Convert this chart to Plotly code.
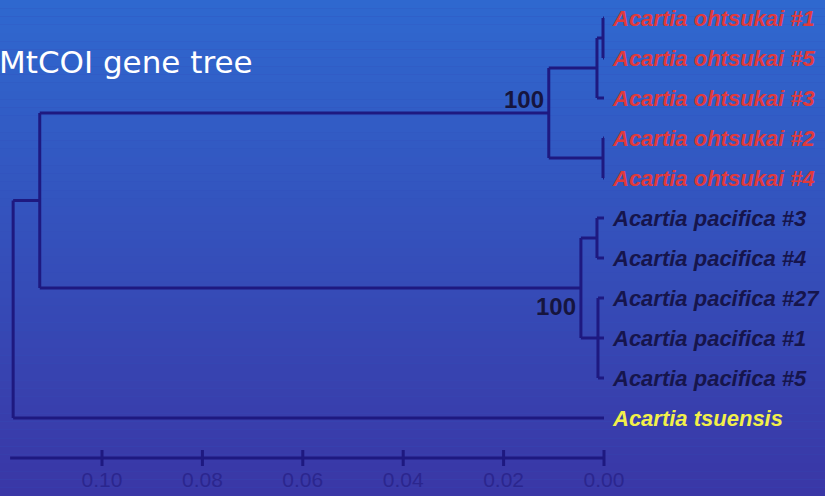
import plotly.graph_objects as go

# ---------------- data ----------------
leaf_names = [
    "Acartia ohtsukai #1", "Acartia ohtsukai #5", "Acartia ohtsukai #3",
    "Acartia ohtsukai #2", "Acartia ohtsukai #4",
    "Acartia pacifica #3", "Acartia pacifica #4", "Acartia pacifica #27",
    "Acartia pacifica #1", "Acartia pacifica #5",
    "Acartia tsuensis",
]
leaf_groups = ["ohtsukai"] * 5 + ["pacifica"] * 5 + ["tsuensis"]

# internal nodes: name -> height (genetic distance), and children
node_heights = {
    "root": 0.1177, "A": 0.1124, "O": 0.0110, "O1": 0.0014, "O11": 0.0002,
    "O2": 0.0002, "P": 0.0046, "P1": 0.0014, "P2": 0.0012,
}
node_children = {
    "root": ["A", "Acartia tsuensis"],
    "A": ["O", "P"],
    "O": ["O1", "O2"],
    "O1": ["O11", "Acartia ohtsukai #3"],
    "O11": ["Acartia ohtsukai #1", "Acartia ohtsukai #5"],
    "O2": ["Acartia ohtsukai #2", "Acartia ohtsukai #4"],
    "P": ["P1", "P2"],
    "P1": ["Acartia pacifica #3", "Acartia pacifica #4"],
    "P2": ["Acartia pacifica #27", "Acartia pacifica #1", "Acartia pacifica #5"],
}
bootstrap_nodes = ["O", "P"]
bootstrap_values = ["100", "100"]

tick_values = [0.10, 0.08, 0.06, 0.04, 0.02, 0.00]
tick_labels = ["0.10", "0.08", "0.06", "0.04", "0.02", "0.00"]
axis_max = 0.1183
title_text = "MtCOI gene tree"

# ---------------- styles ----------------
line_color = "#1e1980"
group_colors = {"ohtsukai": "#e03a3c", "pacifica": "#16154c", "tsuensis": "#f2f04a"}
top_rgb = (0x2f, 0x68, 0xcf)
bot_rgb = (0x3a, 0x37, 0xa6)

# ---------------- layout of tree ----------------
ypos = {name: i for i, name in enumerate(leaf_names)}
xpos = {name: 0.0 for name in leaf_names}


def place(n):
    if n in xpos and n in ypos:
        return ypos[n]
    ys = [place(c) for c in node_children[n]]
    ypos[n] = (min(ys) + max(ys)) / 2
    xpos[n] = node_heights[n]
    return ypos[n]


place("root")

xs, ys = [], []
for n, ch in node_children.items():
    cy = [ypos[c] for c in ch]
    xs += [xpos[n], xpos[n], None]
    ys += [min(cy), max(cy), None]
    for c in ch:
        xs += [xpos[n], xpos[c], None]
        ys += [ypos[c], ypos[c], None]

fig = go.Figure()
fig.add_trace(go.Scatter(x=xs, y=ys, mode="lines",
                         line=dict(color=line_color, width=3), hoverinfo="skip"))

# scale axis
axis_y = len(leaf_names)
ax_x = [axis_max, 0.0, None]
ax_y = [axis_y, axis_y, None]
for t in tick_values:
    ax_x += [t, t, None]
    ax_y += [axis_y - 0.2, axis_y + 0.2, None]
fig.add_trace(go.Scatter(x=ax_x, y=ax_y, mode="lines",
                         line=dict(color=line_color, width=3), hoverinfo="skip"))
fig.add_trace(go.Scatter(x=tick_values, y=[axis_y + 0.6] * len(tick_values),
                         mode="text", text=tick_labels, hoverinfo="skip",
                         textfont=dict(family="Liberation Sans", size=21, color="#2b268e")))

# leaf labels
for name, g in zip(leaf_names, leaf_groups):
    fig.add_annotation(x=0.0, y=ypos[name], text="<b><i>%s</i></b>" % name,
                       xanchor="left", yanchor="middle", xshift=6, showarrow=False,
                       font=dict(family="Liberation Sans", size=22, color=group_colors[g]))

# bootstrap values
for n, v, anc, sh in zip(bootstrap_nodes, bootstrap_values, ["bottom", "top"], [-2, -3]):
    fig.add_annotation(x=xpos[n], y=ypos[n], text="<b>%s</b>" % v,
                       xanchor="right", yanchor=anc, xshift=-3, yshift=sh,
                       showarrow=False,
                       font=dict(family="Liberation Sans", size=24, color="#16153e"))

# title
fig.add_annotation(xref="paper", yref="paper", x=0, y=1 - 62 / 496,
                   text=title_text, xanchor="left", yanchor="middle", xshift=-3,
                   showarrow=False,
                   font=dict(family="DejaVu Sans", size=31, color="white"))

# gradient background
nb = 60
shapes = []
for i in range(nb):
    f = i / (nb - 1)
    r, g, b = [int(round(a + (c - a) * f)) for a, c in zip(top_rgb, bot_rgb)]
    shapes.append(dict(type="rect", xref="paper", yref="paper", x0=0, x1=1,
                       y0=1 - (i + 1) / nb, y1=1 - i / nb, layer="below",
                       line=dict(width=0), fillcolor="rgb(%d,%d,%d)" % (r, g, b)))

fig.update_layout(
    width=825, height=496, margin=dict(l=0, r=0, t=0, b=0),
    paper_bgcolor="#3451ba", plot_bgcolor="rgba(0,0,0,0)",
    showlegend=False, shapes=shapes,
    xaxis=dict(visible=False, range=[604 / 5020, -221 / 5020]),
    yaxis=dict(visible=False, range=[(496 - 18) / 40, -18 / 40]),
)
fig.write_html("out.html", config={"displayModeBar": False, "staticPlot": True})

# remove the default page margin so the figure fills the window
with open("out.html", encoding="utf-8") as fh:
    html = fh.read()
html = html.replace("<body>", '<body style="margin:0;padding:0;overflow:hidden">', 1)
with open("out.html", "w", encoding="utf-8") as fh:
    fh.write(html)
